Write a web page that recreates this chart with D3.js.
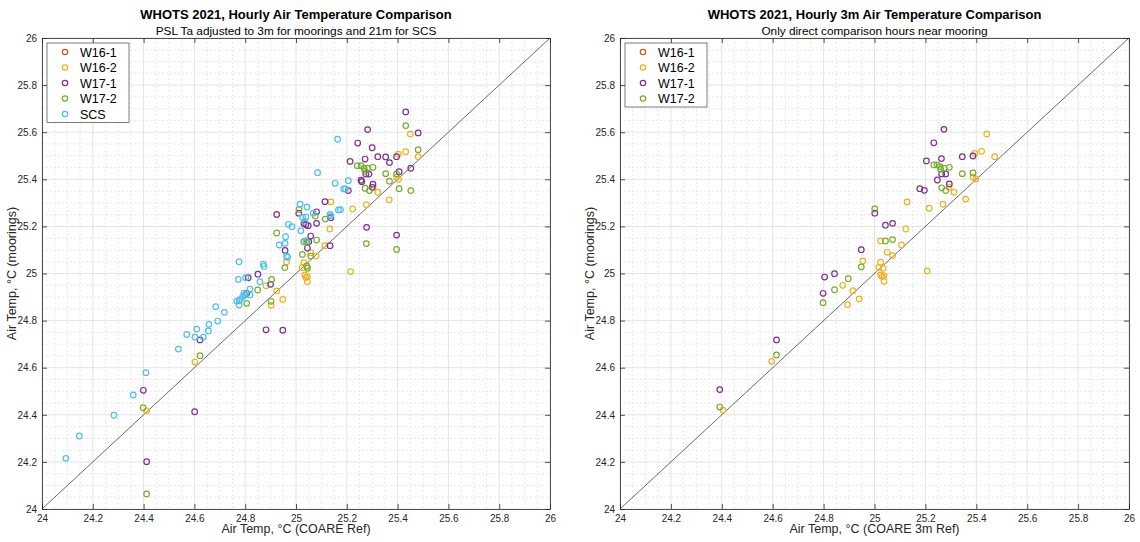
<!DOCTYPE html>
<html><head><meta charset="utf-8">
<script src="https://cdn.jsdelivr.net/npm/d3@7"></script>
<style>body{margin:0;background:#fff} svg{font-family:"Liberation Sans",Arial,Helvetica,sans-serif}</style>
</head><body>
<svg id="c" width="1140" height="542"></svg>
<script>
const seriesNames = ["W16-1","W16-2","W17-1","W17-2","SCS"];
const seriesColors = ["#D95319","#EDB120","#7E2F8E","#77AC30","#4DBEEE"];
const tickValues = [24,24.2,24.4,24.6,24.8,25,25.2,25.4,25.6,25.8,26];
const tickLabels = ["24","24.2","24.4","24.6","24.8","25","25.2","25.4","25.6","25.8","26"];
const leftTitle = "WHOTS 2021, Hourly Air Temperature Comparison";
const leftSubtitle = "PSL Ta adjusted to 3m for moorings and 21m for SCS";
const rightTitle = "WHOTS 2021, Hourly 3m Air Temperature Comparison";
const rightSubtitle = "Only direct comparison hours near mooring";

// Left panel data [COARE ref, mooring/SCS]
const leftW16_1 = [];
const leftW16_2 = [
 [24.412,24.417],[24.602,24.624],[24.882,24.948],[24.924,24.926],[24.902,24.865],[24.948,24.890],
 [24.963,25.050],[25.031,25.046],[25.024,25.025],[25.045,25.025],[25.035,24.994],[25.045,24.987],
 [25.039,24.983],[25.045,24.965],[25.058,25.088],[25.079,25.074],[25.114,25.118],[25.133,25.189],
 [25.137,25.304],[25.223,25.274],[25.277,25.292],[25.215,25.008],[25.304,25.366],[25.322,25.345],
 [25.367,25.313],[25.396,25.409],[25.404,25.400],[25.403,25.507],[25.432,25.517],[25.450,25.592],
 [25.481,25.496]];
const leftW17_1 = [
 [24.412,24.201],[24.399,24.504],[24.601,24.413],[24.622,24.718],[24.850,24.997],[24.812,24.982],
 [24.806,24.916],[24.882,24.761],[24.948,24.759],[24.900,24.954],[24.957,25.098],[24.924,25.251],
 [25.011,25.256],[25.031,25.212],[25.039,25.207],[25.048,25.203],[25.081,25.213],[25.081,25.262],
 [25.058,25.159],[25.045,25.108],[25.050,25.135],[25.134,25.118],[25.137,25.237],[25.114,25.305],
 [25.206,25.352],[25.278,25.196],[25.396,25.163],[25.256,25.396],[25.259,25.390],[25.303,25.379],
 [25.300,25.366],[25.275,25.422],[25.287,25.422],[25.406,25.432],[25.452,25.447],[25.368,25.471],
 [25.213,25.476],[25.272,25.486],[25.322,25.496],[25.353,25.495],[25.396,25.496],[25.300,25.534],
 [25.243,25.554],[25.282,25.611],[25.481,25.597],[25.432,25.686]];
const leftW17_2 = [
 [24.412,24.064],[24.398,24.430],[24.622,24.651],[24.806,24.873],[24.849,24.930],[24.904,24.975],
 [24.902,24.882],[24.924,25.172],[24.956,25.025],[25.012,25.272],[25.025,25.081],[25.031,25.135],
 [25.043,25.131],[25.081,25.142],[25.058,25.074],[25.042,25.032],[25.045,25.022],[25.076,25.244],
 [25.115,25.231],[25.277,25.127],[25.396,25.102],[25.241,25.458],[25.256,25.458],[25.268,25.447],
 [25.282,25.447],[25.303,25.451],[25.272,25.434],[25.353,25.424],[25.396,25.423],[25.368,25.392],
 [25.272,25.362],[25.289,25.352],[25.406,25.360],[25.452,25.352],[25.432,25.628],[25.481,25.526]];
const leftSCS = [
 [24.094,24.215],[24.147,24.310],[24.283,24.398],[24.359,24.484],[24.409,24.579],[24.537,24.679],
 [24.570,24.741],[24.602,24.730],[24.635,24.730],[24.609,24.764],[24.655,24.756],[24.657,24.784],
 [24.692,24.798],[24.718,24.835],[24.684,24.859],[24.767,24.883],[24.776,24.884],[24.776,24.866],
 [24.773,24.975],[24.776,25.050],[24.795,24.916],[24.800,24.909],[24.790,24.901],[24.819,24.909],
 [24.780,24.890],[24.802,24.982],[24.819,24.934],[24.858,24.965],[24.871,25.040],[24.874,25.030],
 [24.934,25.121],[24.957,25.128],[24.959,25.156],[24.963,25.074],[24.967,25.069],[24.970,25.209],
 [24.984,25.199],[25.016,25.294],[25.043,25.282],[25.019,25.182],[25.039,25.139],[25.026,25.238],
 [25.039,25.240],[25.068,25.256],[25.035,25.221],[25.134,25.251],[25.137,25.245],[25.167,25.270],
 [25.175,25.271],[25.085,25.428],[25.154,25.383],[25.188,25.359],[25.195,25.359],[25.206,25.394],
 [25.164,25.570]];

// Right panel data
const rightW16_1 = [];
const rightW16_2 = [
 [24.405,24.420],[24.596,24.627],[24.875,24.950],[24.894,24.868],[24.915,24.927],[24.940,24.892],
 [24.954,25.053],[25.017,25.026],[25.024,25.048],[25.034,25.022],[25.024,24.994],[25.037,24.991],
 [25.030,24.987],[25.037,24.967],[25.050,25.090],[25.071,25.076],[25.106,25.121],[25.024,25.138],
 [25.123,25.189],[25.128,25.304],[25.207,25.011],[25.215,25.277],[25.269,25.294],[25.293,25.366],
 [25.312,25.345],[25.358,25.316],[25.387,25.410],[25.398,25.401],[25.394,25.510],[25.421,25.519],
 [25.441,25.592],[25.472,25.496]];
const rightW17_1 = [
 [24.392,24.507],[24.615,24.718],[24.798,24.916],[24.804,24.985],[24.843,24.999],[24.948,25.101],
 [25.001,25.256],[25.043,25.205],[25.071,25.213],[25.178,25.360],[25.196,25.353],[25.204,25.478],
 [25.233,25.555],[25.247,25.397],[25.263,25.488],[25.264,25.423],[25.280,25.423],[25.273,25.612],
 [25.294,25.380],[25.345,25.496],[25.387,25.499]];
const rightW17_2 = [
 [24.392,24.433],[24.615,24.654],[24.798,24.876],[24.843,24.931],[24.897,24.978],[24.948,25.028],
 [25.001,25.274],[25.043,25.138],[25.071,25.144],[25.233,25.461],[25.246,25.461],[25.257,25.454],
 [25.273,25.447],[25.294,25.451],[25.260,25.443],[25.264,25.364],[25.280,25.352],[25.345,25.424],
 [25.387,25.427]];

const svg = d3.select("#c");
const txtCol = "#262626";

function panel(cfg){
  const x = d3.scaleLinear().domain([24,26]).range([cfg.x0,cfg.x1]);
  const y = d3.scaleLinear().domain([24,26]).range([cfg.y1,cfg.y0]);
  const g = svg.append("g");
  const minor = d3.range(24,26.0001,0.05).filter(v=>Math.abs(v*5-Math.round(v*5))>1e-6);
  g.selectAll(".mx").data(minor).join("line")
    .attr("x1",d=>x(d)).attr("x2",d=>x(d)).attr("y1",cfg.y0).attr("y2",cfg.y1)
    .attr("stroke","#e2e2e2").attr("stroke-width",0.8).attr("stroke-dasharray","2,2");
  g.selectAll(".my").data(minor).join("line")
    .attr("y1",d=>y(d)).attr("y2",d=>y(d)).attr("x1",cfg.x0).attr("x2",cfg.x1)
    .attr("stroke","#e2e2e2").attr("stroke-width",0.8).attr("stroke-dasharray","2,2");
  g.append("g").selectAll("line").data(tickValues).join("line")
    .attr("x1",d=>x(d)).attr("x2",d=>x(d)).attr("y1",cfg.y0).attr("y2",cfg.y1)
    .attr("stroke","#e4e4e4").attr("stroke-width",1);
  g.append("g").selectAll("line").data(tickValues).join("line")
    .attr("y1",d=>y(d)).attr("y2",d=>y(d)).attr("x1",cfg.x0).attr("x2",cfg.x1)
    .attr("stroke","#e4e4e4").attr("stroke-width",1);
  g.append("line").attr("x1",x(24)).attr("y1",y(24)).attr("x2",x(26)).attr("y2",y(26))
    .attr("stroke","#444").attr("stroke-width",0.8);
  cfg.series.forEach((s,i)=>{
    g.append("g").selectAll("circle").data(s).join("circle")
      .attr("cx",d=>x(d[0])).attr("cy",d=>y(d[1])).attr("r",2.8)
      .attr("fill","none").attr("stroke",seriesColors[i]).attr("stroke-width",1.2);
  });
  const fmt = (d,i)=>tickLabels[i];
  const ax = (gen,tr)=>{
    const a = g.append("g").attr("transform",tr).call(gen);
    a.select(".domain").attr("stroke",txtCol).attr("stroke-width",0.8);
    a.selectAll(".tick line").attr("stroke",txtCol).attr("stroke-width",0.8);
    a.selectAll("text").attr("fill",txtCol).style("font-size","10px");
    return a;
  };
  ax(d3.axisBottom(x).tickValues(tickValues).tickFormat(fmt).tickSizeInner(-5).tickSizeOuter(0).tickPadding(6),`translate(0,${cfg.y1})`);
  ax(d3.axisLeft(y).tickValues(tickValues).tickFormat(fmt).tickSizeInner(-5).tickSizeOuter(0).tickPadding(5),`translate(${cfg.x0},0)`);
  const top = ax(d3.axisTop(x).tickValues(tickValues).tickSizeInner(-5).tickSizeOuter(0),`translate(0,${cfg.y0})`);
  top.selectAll("text").remove();
  const rt = ax(d3.axisRight(y).tickValues(tickValues).tickSizeInner(-5).tickSizeOuter(0),`translate(${cfg.x1},0)`);
  rt.selectAll("text").remove();
  const cx = (cfg.x0+cfg.x1)/2;
  g.append("text").attr("x",cx).attr("y",19).attr("text-anchor","middle")
    .style("font-size","13px").style("font-weight","bold").attr("fill","#000").text(cfg.title);
  g.append("text").attr("x",cx).attr("y",35).attr("text-anchor","middle")
    .style("font-size","11.8px").attr("fill","#000").text(cfg.subtitle);
  g.append("text").attr("x",cx).attr("y",533).attr("text-anchor","middle")
    .style("font-size","12.5px").attr("fill",txtCol).text(cfg.xlabel);
  g.append("text").attr("transform",`translate(${cfg.x0-26},${(cfg.y0+cfg.y1)/2}) rotate(-90)`)
    .attr("text-anchor","middle").style("font-size","12.5px").attr("fill",txtCol).text(cfg.ylabel);
  const n = cfg.series.length;
  const lx = cfg.x0+5, ly = cfg.y0+5, rowH = 15.5;
  const lg = g.append("g");
  lg.append("rect").attr("x",lx).attr("y",ly).attr("width",82).attr("height",2+n*rowH)
    .attr("fill","#fff").attr("stroke","#262626").attr("stroke-width",0.6);
  seriesNames.slice(0,n).forEach((nm,i)=>{
    const yy = ly+9+i*rowH;
    lg.append("circle").attr("cx",lx+18).attr("cy",yy).attr("r",2.7).attr("fill","none")
      .attr("stroke",seriesColors[i]).attr("stroke-width",1.2);
    lg.append("text").attr("x",lx+33).attr("y",yy+4.5).style("font-size","12.5px").attr("fill","#000").text(nm);
  });
}

panel({x0:42,x1:550,y0:38,y1:509,title:leftTitle,subtitle:leftSubtitle,
  xlabel:"Air Temp, °C (COARE Ref)",ylabel:"Air Temp, °C (moorings)",
  series:[leftW16_1,leftW16_2,leftW17_1,leftW17_2,leftSCS]});
panel({x0:620,x1:1129,y0:38,y1:509,title:rightTitle,subtitle:rightSubtitle,
  xlabel:"Air Temp, °C (COARE 3m Ref)",ylabel:"Air Temp, °C (moorings)",
  series:[rightW16_1,rightW16_2,rightW17_1,rightW17_2]});
</script></body></html>
